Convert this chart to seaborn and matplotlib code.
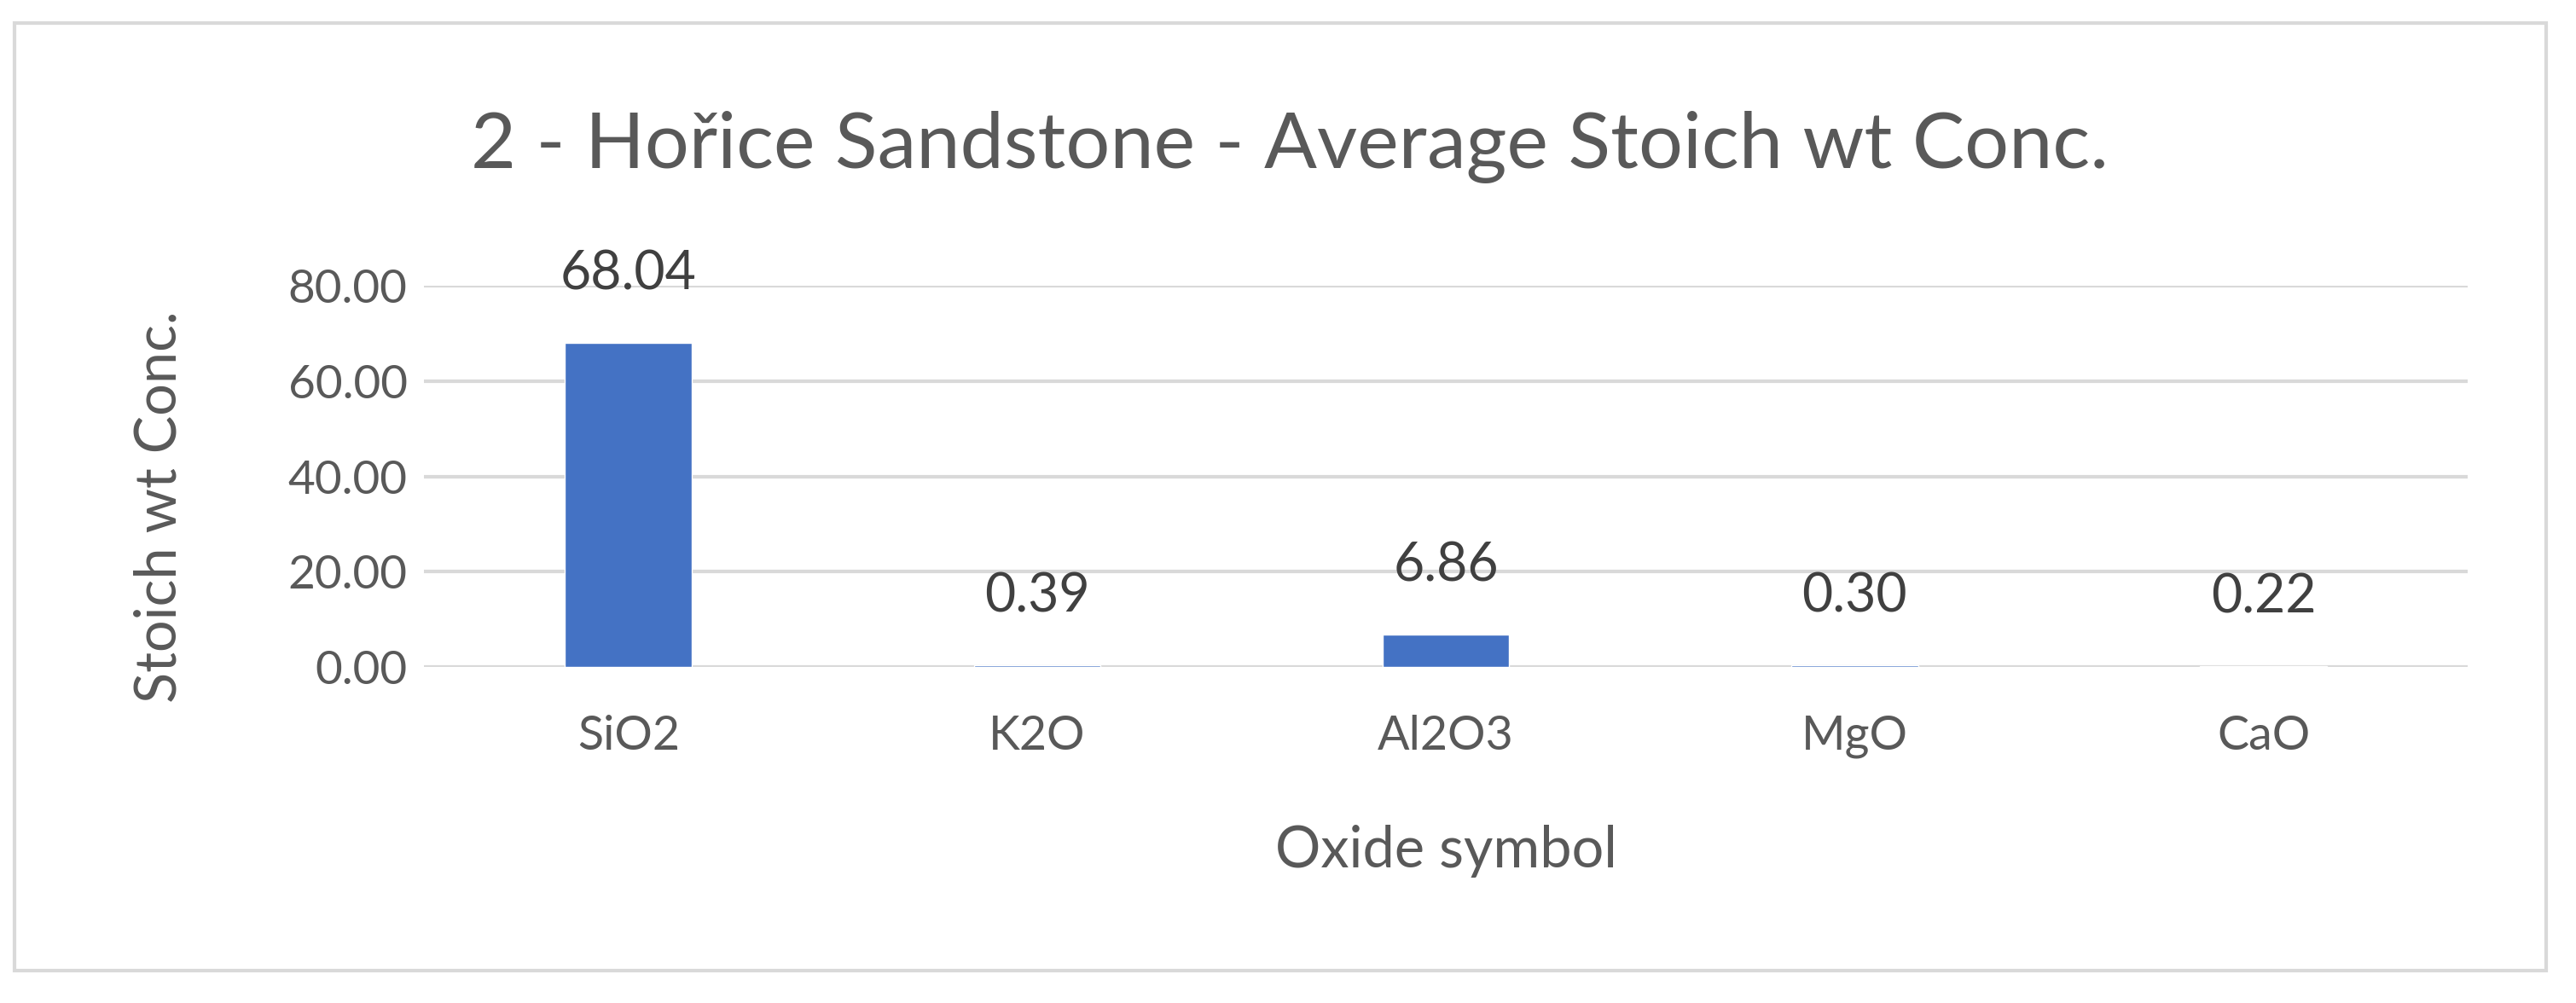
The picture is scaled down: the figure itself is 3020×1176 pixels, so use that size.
import matplotlib
matplotlib.use("Agg")
import matplotlib.pyplot as plt
import seaborn as sns
import pandas as pd
from matplotlib.patches import Rectangle

oxides = ["SiO2", "K2O", "Al2O3", "MgO", "CaO"]
values = [68.04, 0.39, 6.86, 0.30, 0.22]
y_ticks = [0, 20, 40, 60, 80]

title = "2 - Hořice Sandstone - Average Stoich wt Conc."
x_label = "Oxide symbol"
y_label = "Stoich wt Conc."

sns.set_theme(style="white")
plt.rcParams["font.family"] = ["Lato", "DejaVu Sans"]

df = pd.DataFrame({"oxide": oxides, "value": values})

fig = plt.figure(figsize=(30.2, 11.76), dpi=100)
ax_left, ax_right, ax_bottom, ax_top = 0.1646, 0.958, 0.335, 0.715
ax = fig.add_axes([ax_left, ax_bottom, ax_right - ax_left, ax_top - ax_bottom])

sns.barplot(data=df, x="oxide", y="value", color="#4472C4", saturation=1,
            width=0.31, ax=ax, zorder=3)

ax.set_ylim(0, 80)
ax.set_yticks(y_ticks)
ax.set_yticklabels([f"{v:.2f}" for v in y_ticks])
ax.yaxis.grid(True, color="#D9D9D9", linewidth=3.0, zorder=0)
ax.set_axisbelow(True)
for s in ax.spines.values():
    s.set_visible(False)
ax.tick_params(axis="y", length=0, labelsize=39.5, labelcolor="#595959", pad=14)
ax.tick_params(axis="x", length=0, labelsize=40, labelcolor="#595959", pad=40)

ax.set_xlabel("")
ax.set_ylabel("")
fig.text((ax_left + ax_right) / 2, 0.151, x_label, ha="center", va="center",
         fontsize=48, color="#595959")
fig.text(0.062, 0.495, y_label, ha="center", va="center", rotation=90,
         fontsize=48, color="#595959")
fig.text(0.5007, 0.853, title, ha="center", va="center", fontsize=66, color="#595959")

for i, v in enumerate(values):
    ax.annotate(f"{v:.2f}", xy=(i, v), xytext=(0, 58), textcoords="offset points",
                ha="center", va="center", fontsize=45, color="#404040")

fig.patches.append(Rectangle((0.0055, 0.032), 0.983, 0.945, transform=fig.transFigure,
                             fill=False, edgecolor="#D9D9D9", linewidth=3.0))

fig.savefig("out.png", dpi=100, facecolor="white")
